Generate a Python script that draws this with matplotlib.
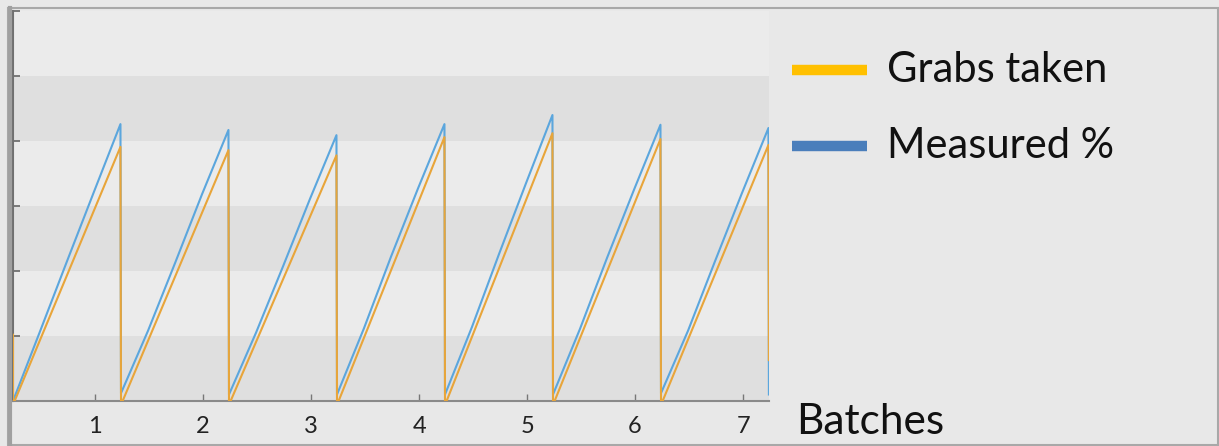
import numpy as np
import matplotlib.pyplot as plt
from matplotlib.lines import Line2D
from matplotlib.patches import Rectangle

plt.rcParams['font.family'] = ['Lato', 'DejaVu Sans']

# one sawtooth per batch: starts at cycle_starts, peaks one batch later
cycle_starts = [0.24, 1.24, 2.24, 3.24, 4.24, 5.24, 6.24]
grabs_peak = [3.91, 3.86, 3.78, 4.06, 4.12, 4.03, 3.94]
# measured % read at 0, 1/4, 1/2, 3/4 and end of each batch
measured = [
    [0.00, 1.07, 2.15, 3.22, 4.26],
    [0.12, 1.08, 2.12, 3.18, 4.17],
    [0.10, 1.05, 2.07, 3.11, 4.09],
    [0.10, 1.12, 2.22, 3.27, 4.26],
    [0.10, 1.14, 2.26, 3.35, 4.40],
    [0.10, 1.11, 2.20, 3.25, 4.25],
    [0.12, 1.08, 2.15, 3.20, 4.20],
]
grabs_edge = [1.02, 0.63]     # cut-off drop lines at left / right edge
measured_edge = 0.10
xticks = [1, 2, 3, 4, 5, 6, 7]
legend_labels = ['Grabs taken', 'Measured %']
legend_colors = ['#FFC000', '#4A7EBB']

gx, gy = [cycle_starts[0]], [grabs_edge[0]]
mx, my = [], []
for s, pk, m in zip(cycle_starts, grabs_peak, measured):
    gx += [s, s + 0.015, s + 0.995]
    gy += [0, 0, pk]
    for f, v in zip([0, 0.25, 0.5, 0.75, 0.995], m):
        mx.append(s + f)
        my.append(v)
    if s != cycle_starts[-1]:
        gx.append(s + 1.0)
        gy.append(0)
gx.append(cycle_starts[-1] + 0.999)
gy.append(grabs_edge[1])
mx.append(cycle_starts[-1] + 0.999)
my.append(measured_edge)

W, H = 1219, 446
fig = plt.figure(figsize=(W / 100, H / 100), dpi=100, facecolor='#e8e8e8')
ax = fig.add_axes([13 / W, 1 - 401 / H, (769 - 13) / W, (401 - 11) / H])
ax.set_facecolor('#ebebeb')
for lo in [0, 2, 4]:
    ax.axhspan(lo, lo + 1, color='#dfdfdf', zorder=0, lw=0)

ax.plot(mx, my, color='#5BA6DD', lw=1.5, zorder=3)
ax.plot(gx, gy, color='#E8A53A', lw=1.5, zorder=4)

ax.set_xlim(0.24, 7.24)
ax.set_ylim(0, 6)
ax.set_xticks(xticks)
ax.set_xticklabels([str(t) for t in xticks], fontsize=17, color='#222222')
ax.set_yticks(range(7))
ax.set_yticklabels([])
ax.tick_params(axis='x', direction='in', length=5, width=1, color='#777777', pad=11)
ax.tick_params(axis='y', direction='in', length=5, width=1.2, color='#666666')
for side in ['top', 'right']:
    ax.spines[side].set_visible(False)
ax.spines['bottom'].set_color('#8a8a8a')
ax.spines['bottom'].set_linewidth(1.5)
ax.spines['left'].set_color('#707070')
ax.spines['left'].set_linewidth(1.5)

# legend drawn by hand to the right of the plot
for i, (lab, col) in enumerate(zip(legend_labels, legend_colors)):
    y = 1 - (70 + 76 * i) / H
    fig.add_artist(Line2D([792 / W, 867 / W], [y, y], color=col, lw=7.5,
                          solid_capstyle='butt'))
    fig.text(887 / W, y, lab, fontsize=30, va='center', ha='left', color='#111111')

fig.text(796 / W, 1 - 434 / H, 'Batches', fontsize=30.5, va='baseline', ha='left',
         color='#111111')

# outer frame
fig.add_artist(Rectangle((8 / W, 1 / H), 1210 / W, 437 / H, transform=fig.transFigure,
                         fill=False, edgecolor='#a8a8a8', lw=1.5))
fig.add_artist(Line2D([9.5 / W, 9.5 / W], [0, 1 - 8 / H], color='#a0a0a0', lw=3))

fig.savefig('out.png', dpi=100, facecolor=fig.get_facecolor())
